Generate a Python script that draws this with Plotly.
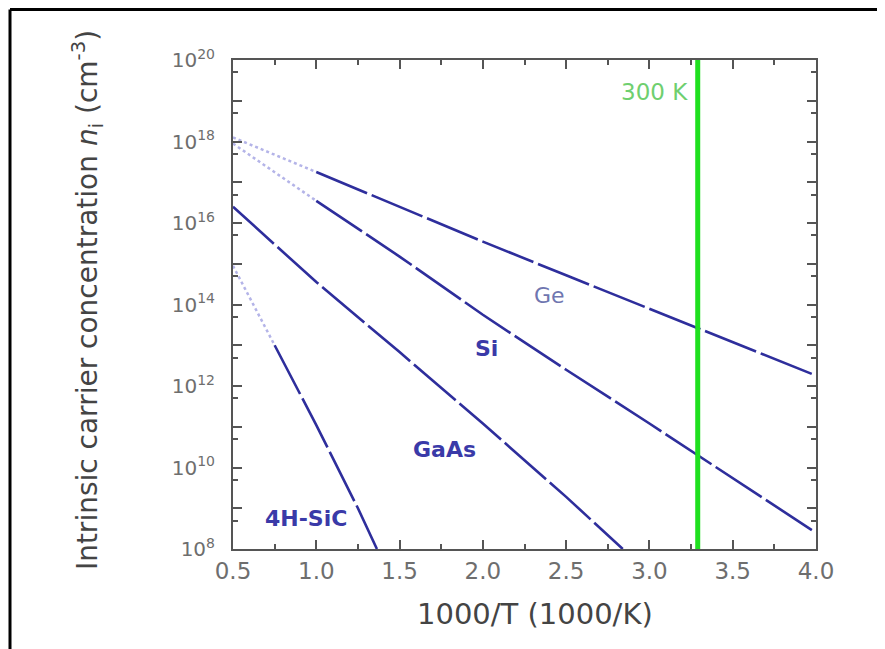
import plotly.graph_objects as go

# ---------------- data ----------------
x_ge = [0.5, 1.0, 1.5, 2.0, 2.5, 3.0, 3.5, 4.0]
n_ge = [1.26e18, 1.78e17, 2.5e16, 3.5e15, 5.2e14, 7.9e13, 1.2e13, 1.8e12]

x_si = [0.5, 1.0, 1.5, 2.0, 2.5, 3.0, 3.5, 4.0]
n_si = [8.9e17, 3.5e16, 1.5e15, 5.6e13, 2.5e12, 1.2e11, 5.5e9, 2.5e8]

x_gaas = [0.5, 1.0, 1.5, 2.0, 2.5, 2.84]
n_gaas = [2.5e16, 3.55e14, 6.8e12, 1.2e11, 1.9e9, 1.0e8]

x_sic = [0.5, 0.75, 1.0, 1.25, 1.364]
n_sic = [8.9e14, 1.0e13, 1.1e11, 1.0e9, 1.0e8]

series_names = ["Ge", "Si", "GaAs", "4H-SiC"]
faint_until = [1.0, 1.0, 0.5, 0.75]   # light start segment of each curve

label_x = [2.40, 2.02, 1.77, 0.94]
label_logn = [14.23, 12.93, 10.43, 8.76]

t300_x = 3.29
t300_label = "300 K"

x_ticks = [0.5, 1.0, 1.5, 2.0, 2.5, 3.0, 3.5, 4.0]
x_tick_labels = ["0.5", "1.0", "1.5", "2.0", "2.5", "3.0", "3.5", "4.0"]
x_minor = [0.75, 1.25, 1.75, 2.25, 2.75, 3.25, 3.75]

y_exps = list(range(8, 21))
y_ticks = [10.0 ** e for e in y_exps]
y_tick_labels = [("10<sup>%d</sup>" % e) if e % 2 == 0 else "" for e in y_exps]
y_minor = [5 * 10.0 ** e for e in range(8, 20)]

# ---------------- figure ----------------
FONT = "DejaVu Sans"
LINE = "#2e2e9c"
FAINT = "#b4b4e8"
AX = "#555555"

fig = go.Figure()
all_x = [x_ge, x_si, x_gaas, x_sic]
all_n = [n_ge, n_si, n_gaas, n_sic]
for xs, ns, split in zip(all_x, all_n, faint_until):
    fx = [a for a in xs if a <= split]
    fn = [b for a, b in zip(xs, ns) if a <= split]
    if len(fx) > 1:
        fig.add_trace(go.Scatter(x=fx, y=fn, mode="lines",
                                 line=dict(color=FAINT, width=2.5, dash="dot"),
                                 hoverinfo="skip", showlegend=False))
    dx = [a for a in xs if a >= split]
    dn = [b for a, b in zip(xs, ns) if a >= split]
    fig.add_trace(go.Scatter(x=dx, y=dn, mode="lines",
                             line=dict(color=LINE, width=2.6, dash="55px,5px"),
                             showlegend=False))

# 300 K line
fig.add_vline(x=t300_x, line=dict(color="#1fe01f", width=5), layer="above")
fig.add_annotation(x=t300_x, y=19.21, xref="x", yref="y", text=t300_label,
                   showarrow=False, xanchor="right", yanchor="middle", xshift=-8,
                   font=dict(family=FONT, size=23, color="#6fcf6f"))

# curve labels
for i, name in enumerate(series_names):
    bold = name != "Ge"
    fig.add_annotation(x=label_x[i], y=label_logn[i], xref="x", yref="y",
                       text=("<b>%s</b>" % name) if bold else name,
                       showarrow=False, xanchor="center", yanchor="middle",
                       font=dict(family=FONT, size=22,
                                 color="#3a3aa8" if bold else "#6f76b0"))

# axis titles
fig.add_annotation(x=0.518, y=-0.133, xref="paper", yref="paper",
                   text="1000/T (1000/K)", showarrow=False,
                   xanchor="center", yanchor="middle",
                   font=dict(family=FONT, size=29, color="#444444"))
fig.add_annotation(x=-0.2504, y=0.509, xref="paper", yref="paper",
                   text="Intrinsic carrier concentration <i>n</i><sub>i</sub> (cm<sup>-3</sup>)",
                   textangle=-90, showarrow=False,
                   xanchor="center", yanchor="middle",
                   font=dict(family=FONT, size=28, color="#444444"))

# outer frame (top and left)
fig.add_shape(type="line", xref="paper", yref="paper",
              x0=-0.3825, x1=1.12, y0=1.1033, y1=1.1033,
              line=dict(color="black", width=3))
fig.add_shape(type="line", xref="paper", yref="paper",
              x0=-0.3825, x1=-0.3825, y0=1.1033, y1=-0.21,
              line=dict(color="black", width=3))

fig.update_xaxes(range=[0.5, 4.0], tickmode="array", tickvals=x_ticks,
                 ticktext=x_tick_labels, ticks="inside", ticklen=9, tickwidth=2,
                 tickcolor=AX, showline=True, linewidth=2, linecolor=AX,
                 mirror="ticks", showgrid=False, zeroline=False,
                 minor=dict(tickmode="array", tickvals=x_minor, ticks="inside",
                            ticklen=5, tickwidth=1.5, tickcolor=AX, showgrid=False),
                 tickfont=dict(family=FONT, size=23, color="#6e6e6e"),
                 ticklabelstandoff=0)
fig.update_yaxes(type="log", range=[8, 20], tickmode="array", tickvals=y_ticks,
                 ticktext=y_tick_labels, ticks="inside", ticklen=9, tickwidth=2,
                 tickcolor=AX, showline=True, linewidth=2, linecolor=AX,
                 mirror="ticks", showgrid=False, zeroline=False,
                 minor=dict(tickmode="array", tickvals=y_minor, ticks="inside",
                            ticklen=5, tickwidth=1.5, tickcolor=AX, showgrid=False),
                 tickfont=dict(family=FONT, size=20, color="#6e6e6e"),
                 ticklabelstandoff=12)

fig.update_layout(width=877, height=641,
                  margin=dict(l=225, r=69, t=52, b=100, autoexpand=False),
                  paper_bgcolor="white", plot_bgcolor="white",
                  showlegend=False)

fig.write_html("out.html")
